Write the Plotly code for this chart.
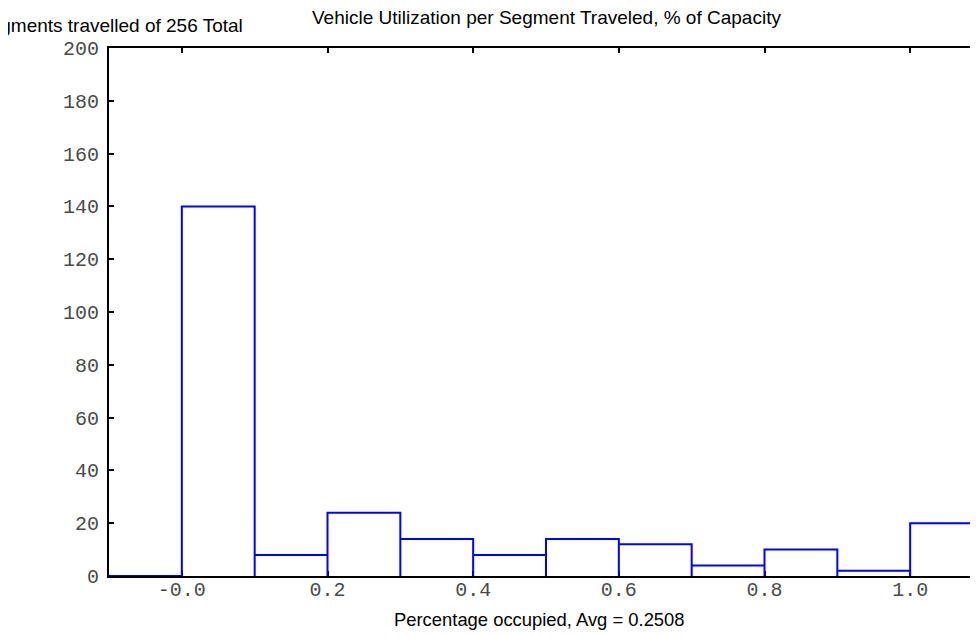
import plotly.graph_objects as go

# Histogram data
bin_edges = [-0.1, 0.0, 0.1, 0.2, 0.3, 0.4, 0.5, 0.6, 0.7, 0.8, 0.9, 1.0, 1.1]
counts = [0, 140, 8, 24, 14, 8, 14, 12, 4, 10, 2, 20]

x_tick_vals = [0.0, 0.2, 0.4, 0.6, 0.8, 1.0]
x_tick_text = ["-0.0", "0.2", "0.4", "0.6", "0.8", "1.0"]
y_tick_vals = [0, 20, 40, 60, 80, 100, 120, 140, 160, 180, 200]

title_text = "Vehicle Utilization per Segment Traveled, % of Capacity"
x_title = "Percentage occupied, Avg = 0.2508"
y_title = "Segments travelled of 256 Total"

# Build outline path of each bin rectangle
px, py = [], []
for i, c in enumerate(counts):
    l, r = bin_edges[i], bin_edges[i + 1]
    px += [l, l, r, r]
    py += [0, c, c, 0]

# page body has an 8px margin; figure coordinates below are page - 8
W, H = 977, 629
ml, mr, mt, mb = 101, 0, 40, 61
PW, PH = W - ml - mr, H - mt - mb

def xp(px_):
    return (px_ - ml) / PW

def yp(py_):
    return (H - mb - py_) / PH

fig = go.Figure()
fig.add_trace(go.Scatter(x=px, y=py, mode="lines", cliponaxis=False,
                         line=dict(color="#0000ff", width=2), hoverinfo="skip"))

tickfont = dict(family="Liberation Mono, Courier New, monospace", size=20, color="#4a4a4a")
txtfont = dict(family="Liberation Sans, Arial, Helvetica", color="black")

fig.update_layout(
    width=W, height=H,
    margin=dict(l=ml, r=mr, t=mt, b=mb),
    paper_bgcolor="white", plot_bgcolor="white",
    showlegend=False,
    xaxis=dict(range=[bin_edges[0], bin_edges[-1]], tickvals=x_tick_vals, ticktext=x_tick_text,
               ticks="inside", ticklen=5, tickwidth=2, tickcolor="black",
               showline=True, linecolor="black", linewidth=2, mirror="ticks",
               showgrid=False, zeroline=False, tickfont=tickfont, ticklabelstandoff=-6,
               layer="below traces"),
    yaxis=dict(range=[0, 200], tickvals=y_tick_vals,
               ticks="inside", ticklen=5, tickwidth=2, tickcolor="black",
               showline=True, linecolor="black", linewidth=2, mirror="ticks",
               showgrid=False, zeroline=False, tickfont=tickfont, ticklabelstandoff=4,
               layer="below traces"),
    annotations=[
        dict(text=title_text, xref="paper", yref="paper",
             x=xp(539), y=yp(10), xanchor="center", yanchor="middle", showarrow=False,
             font=dict(size=19, **txtfont)),
        dict(text=x_title, xref="paper", yref="paper",
             x=xp(532.5), y=yp(611), xanchor="center", yanchor="middle", showarrow=False,
             font=dict(size=18.4, **txtfont)),
        dict(text=y_title, xref="paper", yref="paper",
             x=xp(237), y=yp(18), xanchor="right", yanchor="middle", showarrow=False,
             font=dict(size=19, **txtfont)),
    ],
)

fig.write_html("out.html")
